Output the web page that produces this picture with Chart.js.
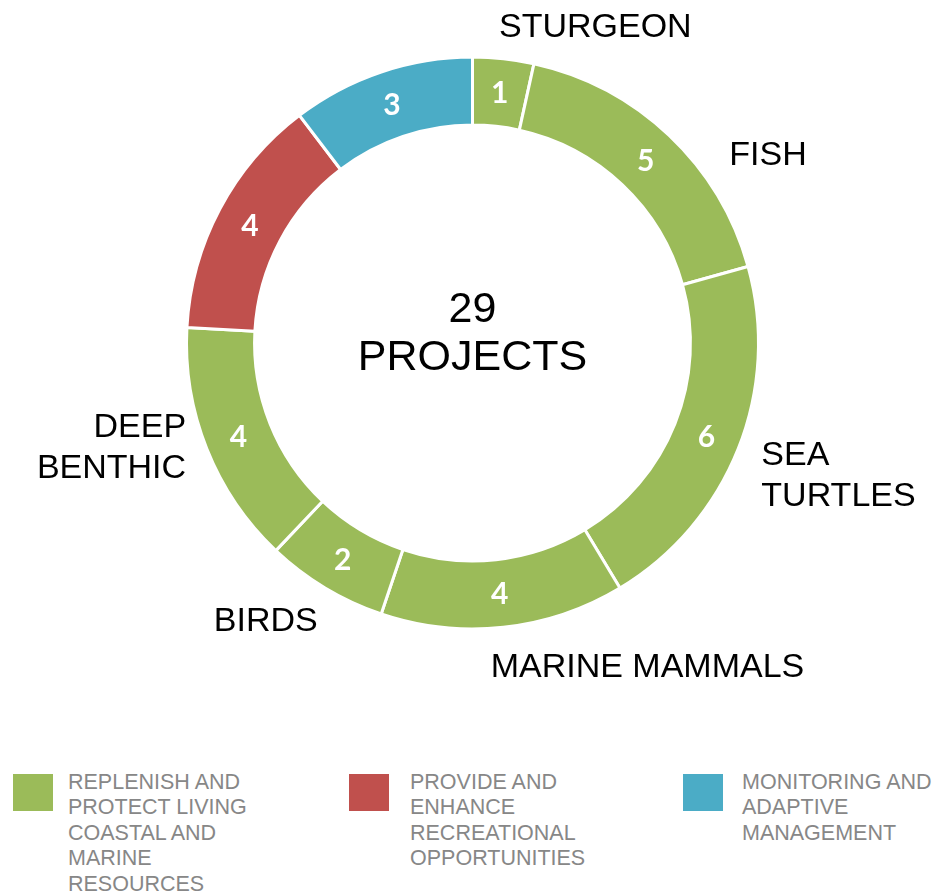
<!DOCTYPE html>
<html>
<head>
<meta charset="utf-8">
<script src="https://cdn.jsdelivr.net/npm/chart.js@4.4.1/dist/chart.umd.min.js"></script>
<style>
    body { margin: 0; background: #fff; width: 945px; height: 894px; overflow: hidden; }
    #wrap { position: absolute; left: 0; top: 0; width: 945px; height: 686px; }
    #legend { position: absolute; left: 0; top: 770px; width: 945px; height: 124px;
              font-family: 'Liberation Sans', Arial, sans-serif; font-size: 21.5px; color: #878787; }
    .box { position: absolute; top: 4px; width: 40px; height: 37px; }
    .txt { position: absolute; top: 0; line-height: 25.4px; white-space: nowrap; }
</style>
</head>
<body>
<div id="wrap"><canvas id="donut"></canvas></div>
<div id="legend"></div>
<script>
// Data
const categories = ['STURGEON', 'FISH', 'SEA TURTLES', 'MARINE MAMMALS', 'BIRDS', 'DEEP BENTHIC', 'RECREATION', 'MONITORING'];
const projectCounts = [1, 5, 6, 4, 2, 4, 4, 3];
const outerLabels = [['STURGEON'], ['FISH'], ['SEA', 'TURTLES'], ['MARINE MAMMALS'], ['BIRDS'], ['DEEP', 'BENTHIC'], [], []];
const segmentGroup = [0, 0, 0, 0, 0, 0, 1, 2];
const groupNames = [
    ['REPLENISH AND', 'PROTECT LIVING', 'COASTAL AND', 'MARINE', 'RESOURCES'],
    ['PROVIDE AND', 'ENHANCE', 'RECREATIONAL', 'OPPORTUNITIES'],
    ['MONITORING AND', 'ADAPTIVE', 'MANAGEMENT'],
];
const centerLines = ['29', 'PROJECTS'];

// Styles
const groupColors = ['#9BBB59', '#C0504D', '#4BACC6'];
const legendBoxLeft = [13, 349, 683];
const legendTextLeft = [68, 410, 742];

// Draws the numbers on the ring, the outer names and the centre text
const ringLabels = {
    id: 'ringLabels',
    afterDatasetsDraw(chart, args, opts) {
        const ctx = chart.ctx;
        const meta = chart.getDatasetMeta(0);
        const values = chart.data.datasets[0].data;
        ctx.save();
        ctx.textBaseline = 'middle';

        meta.data.forEach((arc, i) => {
            const { x, y, startAngle, endAngle, outerRadius } = arc.getProps(['x', 'y', 'startAngle', 'endAngle', 'outerRadius'], true);

            // value inside the segment
            const c = arc.getCenterPoint();
            ctx.fillStyle = '#fff';
            ctx.textAlign = 'center';
            ctx.font = 'bold 30px Lato, "Open Sans", sans-serif';
            ctx.fillText(String(values[i]), c.x, c.y + 1);

            // name outside the ring
            const lines = outerLabels[i];
            if (!lines.length) return;
            const tweak = opts.tweak[categories[i]] || [0, 0];
            const mid = (startAngle + endAngle) / 2 + tweak[0] * Math.PI / 180;
            const r = outerRadius + opts.gap + tweak[1];
            const ax = x + Math.cos(mid) * r;
            const ay = y + Math.sin(mid) * r;
            ctx.fillStyle = '#000';
            ctx.font = '34px "Liberation Sans", Arial, sans-serif';
            ctx.textAlign = Math.cos(mid) >= 0 ? 'left' : 'right';
            const lh = 41;
            lines.forEach((t, k) => {
                ctx.fillText(t, ax, ay + (k - (lines.length - 1) / 2) * lh);
            });
        });

        // centre text
        const area = chart.chartArea;
        const cx = (area.left + area.right) / 2;
        const cy = (area.top + area.bottom) / 2;
        ctx.fillStyle = '#000';
        ctx.textAlign = 'center';
        ctx.font = '43px "Liberation Sans", Arial, sans-serif';
        ctx.fillText(centerLines[0], cx, cy - 33);
        ctx.fillText(centerLines[1], cx, cy + 15);
        ctx.restore();
    }
};

const chart = new Chart(document.getElementById('donut'), {
    type: 'doughnut',
    data: {
        labels: categories,
        datasets: [{
            data: projectCounts,
            backgroundColor: segmentGroup.map(g => groupColors[g]),
            borderColor: '#fff',
            borderWidth: 3,
            radius: 286,
        }],
    },
    options: {
        responsive: true,
        maintainAspectRatio: false,
        animation: false,
        cutout: '76.2%',
        layout: { padding: 0 },
        plugins: {
            legend: { display: false },
            tooltip: { enabled: false },
            // [angle shift in degrees, extra distance in px]
            ringLabels: {
                gap: 32,
                tweak: {
                    'STURGEON': [-1.4, -2],
                    'FISH': [10.4, 0],
                    'SEA TURTLES': [3, 0],
                    'MARINE MAMMALS': [3, 7],
                    'BIRDS': [-2, 1],
                    'DEEP BENTHIC': [1.6, -13],
                },
            },
        },
    },
    plugins: [ringLabels],
});

// Legend below the chart
const legend = document.getElementById('legend');
groupNames.forEach((lines, g) => {
    const box = document.createElement('div');
    box.className = 'box';
    box.style.left = legendBoxLeft[g] + 'px';
    box.style.background = groupColors[g];
    const txt = document.createElement('div');
    txt.className = 'txt';
    txt.style.left = legendTextLeft[g] + 'px';
    txt.innerHTML = lines.join('<br>');
    legend.appendChild(box);
    legend.appendChild(txt);
});
</script>
</body>
</html>
